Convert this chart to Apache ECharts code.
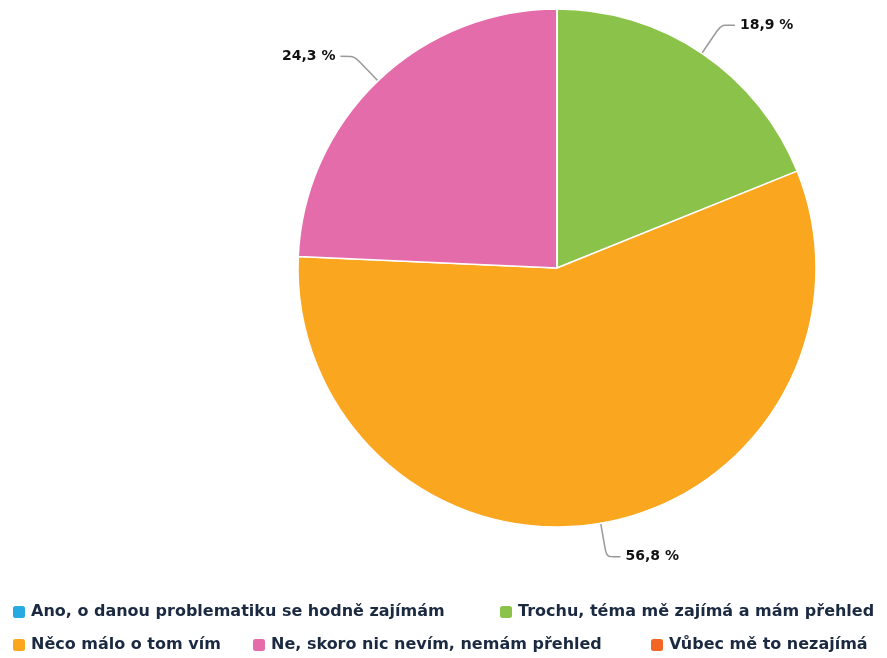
<!DOCTYPE html>
<html>
<head>
<meta charset="utf-8">
<script src="https://cdn.jsdelivr.net/npm/echarts@6/dist/echarts.min.js"></script>
<style>
  html, body { margin: 0; padding: 0; background: #fff; }
  #chart { width: 887px; height: 658px; }
</style>
</head>
<body>
<div id="chart"></div>
<script>
const categories = [
    'Ano, o danou problematiku se hodně zajímám',
    'Trochu, téma mě zajímá a mám přehled',
    'Něco málo o tom vím',
    'Ne, skoro nic nevím, nemám přehled',
    'Vůbec mě to nezajímá'
];
const percents = [0, 18.9, 56.8, 24.3, 0];
const colors = ['#27a9e1', '#8bc34a', '#faa61f', '#e56cab', '#f26522'];

// legend item positions (one legend per item, matches the reference layout)
const legendPos = [
    { left: 11, top: 604 },
    { left: 498, top: 604 },
    { left: 11, top: 637 },
    { left: 251, top: 637 },
    { left: 649, top: 637 }
];

const font = '"DejaVu Sans", sans-serif';

const chart = echarts.init(document.getElementById('chart'));

const pieData = categories.map(function (name, i) {
    const item = { name: name, value: percents[i], itemStyle: { color: colors[i] } };
    if (percents[i] === 0) {
        item.label = { show: false };
        item.labelLine = { show: false };
    }
    return item;
});

const option = {
    animation: false,
    color: colors,
    legend: legendPos.map(function (p, i) {
        return {
            left: p.left,
            top: p.top,
            padding: 0,
            data: [categories[i]],
            icon: 'roundRect',
            itemWidth: 14,
            itemHeight: 14,
            itemGap: 0,
            selectedMode: false,
            textStyle: {
                fontFamily: font,
                fontSize: 16,
                fontWeight: 'bold',
                color: '#1b2a41'
            }
        };
    }),
    series: [{
        type: 'pie',
        center: [557, 268],
        radius: [0, 259],
        startAngle: 90,
        avoidLabelOverlap: false,
        itemStyle: { borderColor: '#fff', borderWidth: 1.5 },
        label: {
            show: true,
            position: 'outside',
            fontFamily: font,
            fontSize: 14,
            fontWeight: 'bold',
            color: '#111',
            formatter: function (p) {
                return p.value.toFixed(1).replace('.', ',') + ' %';
            }
        },
        labelLine: {
            show: true,
            length: 34,
            length2: 14,
            smooth: 0.2,
            lineStyle: { color: '#999', width: 1.5 }
        },
        data: pieData
    }]
};

chart.setOption(option);
</script>
</body>
</html>
